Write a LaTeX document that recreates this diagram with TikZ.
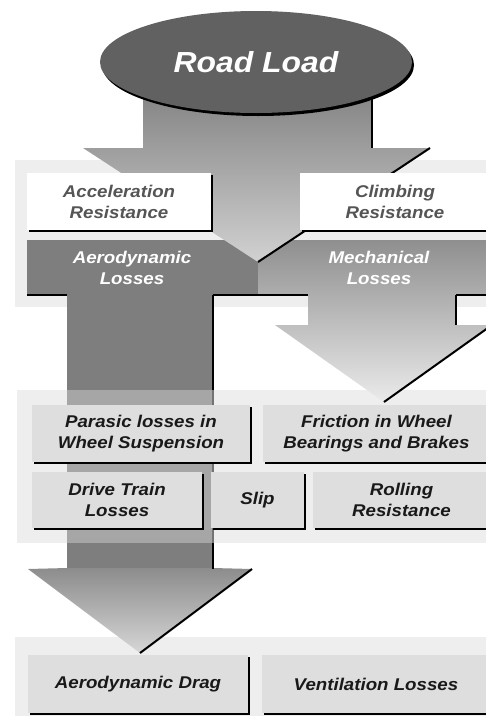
\documentclass[tikz,border=0pt]{standalone}
\usepackage{fontspec}
\newfontfamily\lossfont[FakeStretch=1.1]{Liberation Sans}
\usepackage{tikz}
\usetikzlibrary{shapes.geometric}
\usetikzlibrary{shadows}

\definecolor{panelgray}{HTML}{EEEEEE}
\definecolor{boxgray}{HTML}{DEDEDE}
\definecolor{aeroband}{HTML}{7E7E7E}
\definecolor{roadgray}{HTML}{616161}
\definecolor{softtext}{HTML}{555555}

\tikzset{
  losstext/.style={font=\lossfont\bfseries\itshape\fontsize{17}{21}\selectfont,align=center},
  lossbox/.style={losstext,fill=boxgray,inner sep=0pt,text=black!90,
    drop shadow={opacity=1,fill=black,shadow xshift=1.5pt,shadow yshift=-2pt}},
  edgeline/.style={line width=2pt},
}

\begin{document}
\begin{tikzpicture}[x=1pt,y=-1pt]
        \useasboundingbox (0,0) rectangle (486,718);
        \fill[panelgray] (15,160) rectangle (486,307);
        \fill[panelgray] (17,390) rectangle (486,543);
        \fill[panelgray] (15,637) rectangle (486,716);
        \fill[aeroband] (27,240) -- (258,240) -- (258,295) -- (213,295) --
          (213,569) -- (67,569) -- (67,295) -- (27,295) -- cycle;
        \shade[top color=black!45,bottom color=black!16]
          (67,568) -- (213,568) -- (252,569) -- (140,653) -- (28,569) -- cycle;
        \fill[black!35] (67,390) rectangle (213,543);
        \shade[top color=black!44,bottom color=black!8]
          (258,240) -- (490,240) -- (490,295) -- (456,295) -- (456,325) --
          (492,325) -- (384,402) -- (275,325) -- (308,325) -- (308,295) --
          (258,295) -- cycle;
        \shade[top color=black!52,bottom color=black!18]
          (143,70) -- (372,70) -- (372,148) -- (430,148) -- (258,262) --
          (83,148) -- (143,148) -- cycle;
        \draw[edgeline] (372,96) -- (372,148);
        \draw[edgeline] (430,148) -- (258,262);
        \draw[edgeline] (27,295) -- (67,295);
        \draw[edgeline] (213,295) -- (308,295);
        \draw[edgeline] (456,295) -- (486,295);
        \draw[edgeline] (456,295) -- (456,325);
        \draw[edgeline] (492,325) -- (384,402);
        \draw[edgeline] (213,295) -- (213,390);
        \draw[edgeline,black!55] (213,390) -- (213,543);
        \draw[edgeline] (213,543) -- (213,569);
        \draw[edgeline] (252,569) -- (140,653);
        \node[ellipse,fill=roadgray,minimum width=312,minimum height=102,
          drop shadow={opacity=1,fill=black,shadow xshift=2pt,shadow yshift=-3pt},
          text=white,font=\lossfont\bfseries\itshape\fontsize{29}{34}\selectfont]
          (roadload) at (256,62) {Road Load};
        \foreach \n/\x/\w/\t in {%
          accel/119/184/{Acceleration\\Resistance},
          climb/395/190/{Climbing\\Resistance}} {
            \node[lossbox,fill=white,text=softtext,minimum width=\w,
              minimum height=57] (\n) at (\x,201.5) {\t};
        }
        \node[losstext,text=white] (aero) at (132,268) {Aerodynamic\\Losses};
        \node[losstext,text=white] (mech) at (379,268) {Mechanical\\Losses};
        \foreach \n/\x/\y/\w/\h/\t in {%
          parasic/141/433.5/218/57/{Parasic losses in\\Wheel Suspension},
          friction/376.5/433.5/227/57/{Friction in Wheel\\Bearings and Brakes},
          drive/117/500/170/56/{Drive Train\\Losses},
          slip/257.5/500/93/56/{Slip},
          rolling/401.5/500/177/56/{Rolling\\Resistance},
          drag/138/684/220/58/{Aerodynamic Drag},
          vent/376/684/228/58/{Ventilation Losses}} {
            \node[lossbox,minimum width=\w,minimum height=\h] (\n) at (\x,\y) {\t};
        }
      \end{tikzpicture}
\end{document}
